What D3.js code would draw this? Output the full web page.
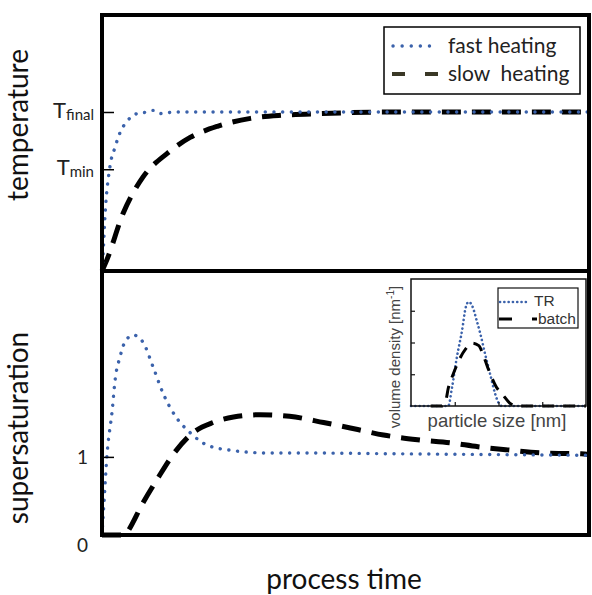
<!DOCTYPE html>
<html><head><meta charset="utf-8">
<script src="https://cdn.jsdelivr.net/npm/d3@7"></script>
<style>body{margin:0;background:#fff}</style>
</head><body>
<svg id="c" width="592" height="595"></svg>
<script>
// ---- data ----
const seriesNames = ["fast heating", "slow  heating"];
// top panel: temperature (T_final = 1)
const fastTx = [0,0.02,0.06,0.16,0.27,0.37,0.51,0.72,0.93,1.05,1.19,1.5,2.5,4,6,8,10];
const fastTy = [0,0.09,0.34,0.65,0.78,0.87,0.94,0.99,1.0,1.01,0.99,1.0,1,1,1,1,1];
const slowTx = [0,0.10,0.43,0.84,1.34,1.81,2.37,3.05,3.72,4.5,6,8,10];
const slowTy = [0,0.07,0.36,0.59,0.74,0.84,0.91,0.96,0.98,0.99,1,1,1];
const tempTickValues = [0.64, 1];
const tempTickMain = ["T", "T"];
const tempTickSub = ["min", "final"];
// bottom panel: supersaturation
const fastSx = [0,0.04,0.10,0.21,0.27,0.37,0.47,0.64,0.84,1.05,1.25,1.52,1.81,2.16,2.70,3.4,4.1,6,8,10];
const fastSy = [0,0.41,1.0,1.6,1.99,2.28,2.47,2.56,2.47,2.15,1.82,1.51,1.31,1.15,1.08,1.05,1.05,1.04,1.03,1.02];
const slowSx = [0,0.47,0.51,0.84,1.13,1.46,1.87,2.28,2.70,3.25,3.85,4.55,5.25,5.78,6.48,7.16,7.72,8.33,9.07,9.84,10];
const slowSy = [0,0,0.03,0.41,0.71,1.03,1.31,1.44,1.51,1.54,1.52,1.44,1.35,1.28,1.22,1.18,1.13,1.09,1.05,1.04,1.03];
const satTickValues = [0, 1];
const satTickLabels = ["0", "1"];
// inset: particle size distribution
const insetNames = ["TR", "batch"];
const trX = [0,0.85,0.94,1.05,1.17,1.25,1.32,1.40,1.50,1.58,1.70,1.81,1.92,2.0,2.08,4];
const trY = [0,0,0.6,1.55,2.4,3.1,3.28,3.15,2.7,2.3,1.6,1.0,0.4,0.1,0,0];
const batchX = [0.45,0.7,0.8,0.85,0.95,1.1,1.25,1.4,1.55,1.65,1.8,1.95,2.1,2.25,2.4,4];
const batchY = [0,0,0.2,0.55,0.95,1.45,1.8,1.98,1.9,1.6,1.05,0.6,0.35,0.1,0,0];
const insetTicks = [1,2,3];

// ---- drawing ----
const svg = d3.select("#c");
const blue = "#3b62ab";
const X0 = 102, X1 = 589, Ytop = 15, Ymid = 271, Ybot = 535;

const x = d3.scaleLinear().domain([0,10]).range([X0, X1]);
const yT = d3.scaleLinear().domain([0,1.61]).range([Ymid, Ytop]);
const yS = d3.scaleLinear().domain([0,3.38]).range([Ybot, Ymid]);

const zip = (a,b) => a.map((v,i)=>[v,b[i]]);
const fastDot = {stroke: blue, w: 3.4, dash: "0.1 8.6"};
const slowDash = {stroke: "#000", w: 5, dash: "19 11"};

function drawLine(xs, ys, xsc, ysc, st, curve) {
  const line = d3.line().x(d=>xsc(d[0])).y(d=>ysc(d[1])).curve(curve || d3.curveMonotoneX);
  svg.append("path").attr("d", line(zip(xs,ys))).attr("fill","none")
    .attr("stroke", st.stroke).attr("stroke-width", st.w)
    .attr("stroke-dasharray", st.dash).attr("stroke-linecap", st.cap || "round");
}

// curves
drawLine(slowTx, slowTy, x, yT, Object.assign({}, slowDash, {cap:"butt"}));
drawLine(fastTx, fastTy, x, yT, fastDot);
drawLine(slowSx, slowSy, x, yS, Object.assign({}, slowDash, {cap:"butt"}));
drawLine(fastSx, fastSy, x, yS, fastDot);

// frames
svg.append("rect").attr("x",X0).attr("y",Ytop).attr("width",X1-X0).attr("height",Ymid-Ytop)
  .attr("fill","none").attr("stroke","#000").attr("stroke-width",4);
svg.append("rect").attr("x",X0).attr("y",Ymid).attr("width",X1-X0).attr("height",Ybot-Ymid)
  .attr("fill","none").attr("stroke","#000").attr("stroke-width",4);

// y axes (inward ticks)
const axT = svg.append("g").attr("transform",`translate(${X0},0)`)
  .call(d3.axisLeft(yT).tickValues(tempTickValues).tickSize(-12).tickFormat(""));
axT.select(".domain").remove();
axT.selectAll("line").attr("stroke","#000").attr("stroke-width",1.5);
tempTickValues.forEach((v,i)=>{
  const t = svg.append("text").attr("x", X0-8).attr("y", yT(v)+6)
    .attr("text-anchor","end").attr("font-family","Lato, 'Open Sans', sans-serif").attr("fill","#222");
  t.append("tspan").attr("font-size",22).text(tempTickMain[i]);
  t.append("tspan").attr("font-size",15).attr("dy",2).text(tempTickSub[i]);
});
const axS = svg.append("g").attr("transform",`translate(${X0},0)`)
  .call(d3.axisLeft(yS).tickValues(satTickValues).tickSize(-12).tickFormat(""));
axS.select(".domain").remove();
axS.selectAll("line").attr("stroke","#000").attr("stroke-width",1.5);
satTickValues.forEach((v,i)=>{
  svg.append("text").attr("x", X0-14).attr("y", yS(v)+ (v===0?17:7))
    .attr("text-anchor","end").attr("font-family","Lato, 'Open Sans', sans-serif")
    .attr("font-size",19).attr("fill","#222").text(satTickLabels[i]);
});

// axis titles
const titleFont = "Lato, 'Open Sans', sans-serif";
svg.append("text").attr("transform",`translate(28,125) rotate(-90)`).attr("text-anchor","middle")
  .attr("font-family",titleFont).attr("font-size",28).attr("fill","#111").text("temperature");
svg.append("text").attr("transform",`translate(28,428) rotate(-90)`).attr("text-anchor","middle")
  .attr("font-family",titleFont).attr("font-size",28).attr("fill","#111").text("supersaturation");
svg.append("text").attr("x",344).attr("y",589).attr("text-anchor","middle")
  .attr("font-family",titleFont).attr("font-size",28).attr("fill","#111").text("process time");

// main legend
const lg = svg.append("g");
lg.append("rect").attr("x",384).attr("y",27).attr("width",196).attr("height",67)
  .attr("fill","#fff").attr("stroke","#000").attr("stroke-width",1.5);
lg.append("line").attr("x1",393).attr("x2",438).attr("y1",46).attr("y2",46)
  .attr("stroke",blue).attr("stroke-width",3.4).attr("stroke-dasharray","0.1 9").attr("stroke-linecap","round");
lg.append("line").attr("x1",392).attr("x2",438).attr("y1",74).attr("y2",74)
  .attr("stroke","#3a3826").attr("stroke-width",4).attr("stroke-dasharray","13 20");
lg.append("text").attr("x",448).attr("y",53).attr("font-family",titleFont).attr("font-size",21)
  .attr("fill","#222").text(seriesNames[0]);
lg.append("text").attr("x",448).attr("y",81).attr("font-family",titleFont).attr("font-size",21)
  .attr("fill","#222").attr("xml:space","preserve").style("white-space","pre").text(seriesNames[1]);

// inset
const ix = d3.scaleLinear().domain([0,4]).range([411,586]);
const iy = d3.scaleLinear().domain([0,4]).range([406,279]);
svg.append("rect").attr("x",411).attr("y",279).attr("width",175).attr("height",127)
  .attr("fill","#fff").attr("stroke","none");
drawLine(trX, trY, ix, iy, {stroke: blue, w: 2.6, dash: "0.1 4.2"});
drawLine(batchX, batchY, ix, iy, {stroke:"#000", w:3, dash:"12 9", cap:"butt"});
svg.append("rect").attr("x",411).attr("y",279).attr("width",175).attr("height",127)
  .attr("fill","none").attr("stroke","#111").attr("stroke-width",1.5);
const iax = svg.append("g").attr("transform","translate(0,406)")
  .call(d3.axisBottom(ix).tickValues(insetTicks).tickSize(-4).tickFormat(""));
iax.select(".domain").remove();
iax.selectAll("line").attr("stroke","#111").attr("stroke-width",1.2);
const iay = svg.append("g").attr("transform","translate(411,0)")
  .call(d3.axisLeft(iy).tickValues(insetTicks).tickSize(-4).tickFormat(""));
iay.select(".domain").remove();
iay.selectAll("line").attr("stroke","#111").attr("stroke-width",1.2);

const insFont = "'Liberation Sans', Arial, sans-serif";
svg.append("text").attr("x",497).attr("y",427).attr("text-anchor","middle")
  .attr("font-family",insFont).attr("font-size",18.5).attr("fill","#444").text("particle size [nm]");
const vl = svg.append("text").attr("transform","translate(400,357) rotate(-90)").attr("text-anchor","middle")
  .attr("font-family",insFont).attr("font-size",15).attr("fill","#444");
vl.append("tspan").text("volume density [nm");
vl.append("tspan").attr("font-size",10).attr("dy",-6).text("-1");
vl.append("tspan").attr("dy",6).text("]");

// inset legend
svg.append("rect").attr("x",498).attr("y",288).attr("width",80).attr("height",40)
  .attr("fill","#fff").attr("stroke","#111").attr("stroke-width",1.2);
svg.append("line").attr("x1",500).attr("x2",527).attr("y1",302).attr("y2",302)
  .attr("stroke",blue).attr("stroke-width",2.6).attr("stroke-dasharray","0.1 4.2").attr("stroke-linecap","round");
svg.append("line").attr("x1",499).attr("x2",538).attr("y1",319).attr("y2",319)
  .attr("stroke","#000").attr("stroke-width",3).attr("stroke-dasharray","13 20 5");
svg.append("text").attr("x",534).attr("y",306).attr("font-family",insFont).attr("font-size",15.5)
  .attr("fill","#333").text(insetNames[0]);
svg.append("text").attr("x",538).attr("y",324).attr("font-family",insFont).attr("font-size",15.5)
  .attr("fill","#333").text(insetNames[1]);
</script>
</body></html>
